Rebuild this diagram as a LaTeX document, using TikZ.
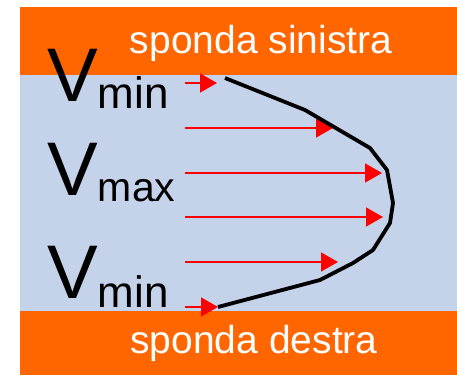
\documentclass[tikz,border=0pt]{standalone}
\usepackage{fontspec}
\setmainfont{Liberation Sans}
\usepackage{xcolor}
\usetikzlibrary{arrows.meta}

\definecolor{riva}{RGB}{255,102,0}
\definecolor{acqua}{RGB}{197,211,234}

\tikzset{
  vel/.style={red,line width=1.5pt,-{Triangle[length=17pt,width=19pt]}},
  profilo/.style={black,line width=3.8pt,line join=round},
  sponda/.style={white,font=\fontsize{39}{44}\selectfont,inner sep=0pt,anchor=base},
  etich/.style={black,inner sep=0pt,anchor=base west}
}

\begin{document}
\begin{tikzpicture}[x=1pt,y=-1pt]
  \useasboundingbox (0,0) rectangle (457,375);
  \fill[white] (0,0) rectangle (457,375);
  \fill[acqua] (20,75) rectangle (457,311);
  \fill[riva] (20,7) rectangle (457,75);
  \fill[riva] (20,311) rectangle (457,375);
  \node[sponda] (sin) at (261,53) {sponda sinistra};
  \node[sponda] (des) at (254,353) {sponda destra};
  % etichette
  \node[etich] (vmin1) at (47,101) {\fontsize{76}{80}\selectfont V\raisebox{-7pt}{\fontsize{44}{48}\selectfont min}};
  \node[etich] (vmax) at (47,195) {\fontsize{76}{80}\selectfont V\raisebox{-6pt}{\fontsize{41}{46}\selectfont max}};
  \node[etich] (vmin2) at (47,298) {\fontsize{76}{80}\selectfont V\raisebox{-9pt}{\fontsize{44}{48}\selectfont min}};
  % vettori velocita
  \foreach \y/\x in {83/217,128/333,173/382,217/383,262/338,307/218}
    \draw[vel] (185,\y) -- (\x,\y);
  % profilo
  \draw[profilo] (225,78) -- (305,110) -- (370,148) -- (387,170) -- (393,203)
    -- (390,223) -- (373,250) -- (353,263) -- (320,280) -- (218,307);
\end{tikzpicture}
\end{document}
